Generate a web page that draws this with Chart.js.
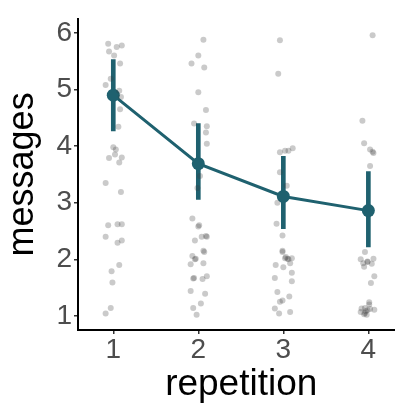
<!DOCTYPE html>
<html>
<head>
<meta charset="utf-8">
<script src="https://cdn.jsdelivr.net/npm/chart.js@4/dist/chart.umd.min.js"></script>
<style>
  html, body { margin: 0; padding: 0; background: #fff; overflow: hidden; width: 395px; height: 406px; }
  #c { display: block; }
</style>
</head>
<body>
<canvas id="c" width="411" height="406"></canvas>
<script>
// ---- data ----
const repetitions = [1, 2, 3, 4];
const tickLabelsX = ['1', '2', '3', '4'];
const tickValuesY = [1, 2, 3, 4, 5, 6];
const meanMessages = [4.90, 3.69, 3.11, 2.86];
const upperMessages = [5.53, 4.40, 3.82, 3.55];
const lowerMessages = [4.27, 3.06, 2.54, 2.22];

const rep1X = [0.94,1.04,1.10,0.95,1.01,1.08,0.97,0.91,1.07,1.08,1.06,1.00,1.03,1.02,0.95,1.10,1.07,0.91,1.09,0.94,1.05,1.10,0.91,1.05,1.10,1.07,0.98,0.99,0.97,0.91,1.09];
const rep1Y = [5.81,5.75,5.78,5.67,5.60,5.46,5.19,5.08,4.98,4.65,4.34,3.98,3.94,3.85,3.79,3.80,3.71,3.35,3.19,2.60,2.62,2.62,2.40,2.29,2.33,1.90,1.79,1.59,1.14,1.04,4.87];
const rep2X = [2.06,2.00,1.92,2.07,2.00,2.09,1.95,2.10,2.09,2.10,2.02,1.99,1.93,2.00,1.96,2.04,2.10,2.07,1.93,1.96,1.91,2.06,1.94,2.05,2.10,1.91,2.08,2.03,1.94,1.98,2.01,2.09,2.06,1.97,1.95];
const rep2Y = [5.88,5.60,5.46,5.39,4.95,4.64,4.40,4.35,4.24,4.04,3.47,3.26,2.72,2.58,2.33,2.40,2.40,2.13,2.06,2.00,1.91,1.93,1.66,1.65,1.70,1.44,1.39,1.22,1.14,1.02,2.60,2.41,2.15,2.01,1.67];
const rep3X = [2.96,2.94,2.96,3.02,3.06,3.11,2.96,3.04,2.93,2.92,2.99,2.99,3.02,3.06,3.10,3.08,2.91,3.00,3.10,2.90,3.10,2.93,3.07,2.99,2.96,2.90,2.95,3.08,3.05,3.03,2.99];
const rep3Y = [5.87,5.28,3.89,3.92,3.92,3.96,3.54,3.30,3.00,2.63,2.42,2.13,2.02,2.00,2.02,1.93,1.90,1.86,1.76,1.67,1.61,1.42,1.34,1.27,1.25,1.13,1.04,1.07,2.01,2.04,2.15];
const rep4X = [4.05,3.93,3.95,4.02,4.06,4.02,3.96,3.91,3.94,3.99,4.04,4.06,3.95,4.07,4.03,4.01,3.92,3.95,3.99,3.96,4.01,4.07,3.91,3.98,3.99,3.97,3.96,4.02,4.05];
const rep4Y = [5.96,4.45,4.05,3.94,3.88,3.65,2.13,2.00,1.93,1.95,1.92,2.01,1.87,1.70,1.58,1.24,1.13,1.03,1.10,1.14,1.20,1.11,1.07,1.02,1.96,1.08,1.05,1.12,3.90];

// ---- build datasets ----
const TEAL = '#1f616f';
const jitterPoints = [];
[[rep1X, rep1Y], [rep2X, rep2Y], [rep3X, rep3Y], [rep4X, rep4Y]].forEach(([xs, ys]) => {
  xs.forEach((x, i) => jitterPoints.push({ x: x, y: ys[i] }));
});
const meanPoints = repetitions.map((r, i) => ({ x: r, y: meanMessages[i] }));
const errorBars = repetitions.map((r, i) => ({ x: r, y: [lowerMessages[i], upperMessages[i]] }));

const FONT = "'Liberation Sans', Arial, sans-serif";

new Chart(document.getElementById('c'), {
  data: {
    datasets: [
      {
        type: 'scatter',
        data: jitterPoints,
        order: 0,
        pointRadius: 3,
        pointHoverRadius: 3,
        backgroundColor: 'rgba(60,60,60,0.27)',
        borderWidth: 0,
        pointBorderWidth: 0
      },
      {
        type: 'line',
        data: meanPoints,
        order: 1,
        borderColor: TEAL,
        borderWidth: 3,
        pointRadius: 6.5,
        pointBackgroundColor: TEAL,
        pointBorderWidth: 0,
        tension: 0,
        fill: false
      },
      {
        type: 'bar',
        data: errorBars,
        order: 2,
        backgroundColor: TEAL,
        borderWidth: 0,
        barThickness: 4,
        grouped: false
      }
    ]
  },
  options: {
    responsive: false,
    devicePixelRatio: 1,
    animation: false,
    events: [],
    layout: { padding: { top: 4, right: 0, left: 0, bottom: 0 } },
    plugins: { legend: { display: false }, tooltip: { enabled: false } },
    scales: {
      x: {
        type: 'linear',
        offset: false,
        min: 0.585,
        max: 4.425,
        afterBuildTicks: (s) => { s.ticks = repetitions.map(v => ({ value: v })); },
        afterFit: (s) => { s.height = 76; },
        ticks: {
          callback: (v) => tickLabelsX[repetitions.indexOf(v)],
          color: '#4d4d4d',
          font: { family: FONT, size: 28 },
          padding: -1,
          maxRotation: 0,
          autoSkip: false
        },
        grid: { offset: false, drawOnChartArea: false, drawTicks: true, tickLength: 4, color: '#333', lineWidth: 1.5 },
        border: { display: true, color: '#000', width: 2 },
        title: {
          display: true,
          text: 'repetition',
          color: '#000',
          font: { family: FONT, size: 37 },
          padding: { top: 0, bottom: -1 }
        }
      },
      y: {
        type: 'linear',
        min: 0.75,
        max: 6.25,
        afterBuildTicks: (s) => { s.ticks = tickValuesY.map(v => ({ value: v })); },
        afterFit: (s) => { s.width = 78; },
        ticks: {
          callback: (v) => String(v),
          color: '#4d4d4d',
          font: { family: FONT, size: 28 },
          padding: 2
        },
        grid: { drawOnChartArea: false, drawTicks: true, tickLength: 4, color: '#333', lineWidth: 1.5 },
        border: { display: true, color: '#000', width: 2 },
        title: {
          display: true,
          text: 'messages',
          color: '#000',
          font: { family: FONT, size: 36 },
          padding: { top: 1, bottom: 0 }
        }
      }
    }
  }
});
</script>
</body>
</html>
